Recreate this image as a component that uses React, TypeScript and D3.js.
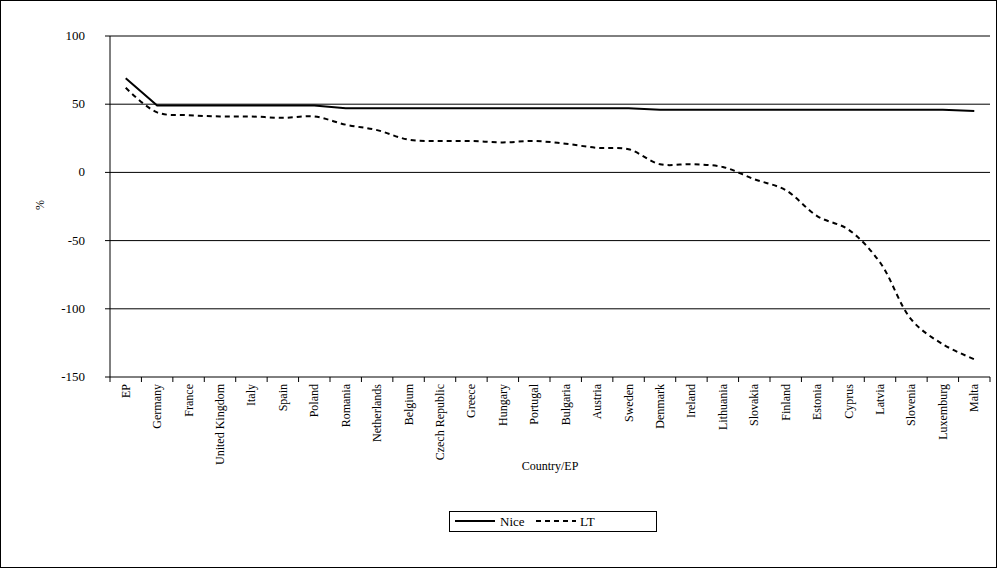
import React from "react";
import * as d3 from "d3";

const categories = ["EP","Germany","France","United Kingdom","Italy","Spain","Poland","Romania","Netherlands","Belgium","Czech Republic","Greece","Hungary","Portugal","Bulgaria","Austria","Sweden","Denmark","Ireland","Lithuania","Slovakia","Finland","Estonia","Cyprus","Latvia","Slovenia","Luxemburg","Malta"];
const nice = [69,49,49,49,49,49,49,47,47,47,47,47,47,47,47,47,47,46,46,46,46,46,46,46,46,46,46,45];
const lt = [62,44,42,41,41,40,41,35,31,24,23,23,22,23,21,18,17,6,6,4,-5,-13,-32,-42,-66,-108,-126,-137];
const yTicks = [100,50,0,-50,-100,-150];

export default function App() {
  const W = 997, H = 568;
  const L = 110, R = 990, T = 36, B = 377;
  const x = d3.scaleBand<string>().domain(categories).range([L, R]);
  const y = d3.scaleLinear().domain([-150, 100]).range([B, T]);
  const cx = (c: string) => (x(c) as number) + x.bandwidth() / 2;
  const niceLine = d3.line<number>().x((_, i) => cx(categories[i])).y(d => y(d));
  const ltLine = d3.line<number>().x((_, i) => cx(categories[i])).y(d => y(d)).curve(d3.curveCatmullRom.alpha(0.5));
  const font = "'Liberation Serif', 'Times New Roman', serif";
  return (
    <svg width={W} height={H} style={{ position: "absolute", left: 0, top: 0 }} fontFamily={font}>
      <rect x={0.5} y={0.5} width={W - 1} height={H - 1} fill="white" stroke="black" />
      {yTicks.map(t => (
        <g key={t}>
          {t !== -150 && <line x1={L} x2={R} y1={y(t)} y2={y(t)} stroke="black" strokeWidth={1} />}
          <line x1={L - 5} x2={L} y1={y(t)} y2={y(t)} stroke="black" />
          <text x={L - 25} y={y(t) + 4} textAnchor="end" fontSize={13}>{t}</text>
        </g>
      ))}
      <line x1={L} x2={L} y1={T} y2={B} stroke="black" />
      <line x1={L} x2={R} y1={B} y2={B} stroke="black" />
      {categories.map((c, i) => (
        <g key={c}>
          <line x1={(x(c) as number)} x2={(x(c) as number)} y1={B} y2={B + 5} stroke="black" />
          <text transform={`translate(${cx(c) + 4},${B + 7}) rotate(-90)`} textAnchor="end" fontSize={12}>{c}</text>
        </g>
      ))}
      <line x1={R} x2={R} y1={B} y2={B + 5} stroke="black" />
      <path d={niceLine(nice) || ""} fill="none" stroke="black" strokeWidth={2} />
      <path d={ltLine(lt) || ""} fill="none" stroke="black" strokeWidth={2} strokeDasharray="5,4" />
      <text transform={`translate(44,205) rotate(-90)`} textAnchor="middle" fontSize={12}>%</text>
      <text x={550} y={470} textAnchor="middle" fontSize={12}>Country/EP</text>
      <rect x={449.5} y={511.5} width={207} height={20} fill="white" stroke="black" />
      <line x1={455} x2={495} y1={521} y2={521} stroke="black" strokeWidth={2} />
      <text x={500} y={526} fontSize={13}>Nice</text>
      <line x1={536} x2={576} y1={521} y2={521} stroke="black" strokeWidth={2} strokeDasharray="5,4" />
      <text x={580} y={526} fontSize={13}>LT</text>
    </svg>
  );
}
